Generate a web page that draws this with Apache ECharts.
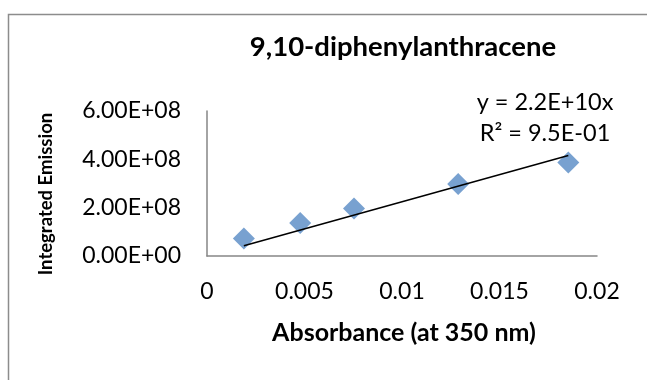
<!DOCTYPE html>
<html>
<head>
<meta charset="utf-8">
<script src="https://cdn.jsdelivr.net/npm/echarts@6/dist/echarts.min.js"></script>
<style>
  html, body { margin: 0; padding: 0; background: #ffffff; }
  #chart { width: 647px; height: 380px; }
</style>
</head>
<body>
<div id="chart"></div>
<script>
// ---- data ----
const chartTitle = '9,10-diphenylanthracene';
const xAxisTitle = 'Absorbance (at 350 nm)';
const yAxisTitle = 'Integrated Emission';
const absorbance = [0.00189, 0.00478, 0.00754, 0.01288, 0.01853];
const emission = [0.72e8, 1.37e8, 1.97e8, 2.98e8, 3.87e8];
const xTickLabels = ['0', '0.005', '0.01', '0.015', '0.02'];
const yTickLabels = ['0.00E+00', '2.00E+08', '4.00E+08', '6.00E+08'];
const equationLines = ['y = 2.2E+10x', 'R\u00B2 = 9.5E-01'];

// least-squares fit through origin (Excel trendline with intercept 0)
let sxy = 0, sxx = 0;
for (let i = 0; i < absorbance.length; i++) {
  sxy += absorbance[i] * emission[i];
  sxx += absorbance[i] * absorbance[i];
}
const slope = sxy / sxx;
const xMin = Math.min.apply(null, absorbance);
const xMax = Math.max.apply(null, absorbance);
const trendData = [[xMin, slope * xMin], [xMax, slope * xMax]];
const scatterData = absorbance.map((x, i) => [x, emission[i]]);

const FONT = 'Lato, "Open Sans", sans-serif';
const chart = echarts.init(document.getElementById('chart'), null, { renderer: 'canvas' });

chart.setOption({
  animation: false,
  backgroundColor: '#ffffff',
  grid: { left: 207, top: 111, right: 50, bottom: 124, containLabel: false },
  xAxis: {
    type: 'value', min: 0, max: 0.02, interval: 0.005,
    axisLine: { show: true, lineStyle: { color: '#868686', width: 1.5 } },
    axisTick: { show: false },
    splitLine: { show: false },
    axisLabel: {
      margin: 24, color: '#000', fontFamily: FONT, fontSize: 23,
      formatter: function (v) { return xTickLabels[Math.round(v / 0.005)]; }
    }
  },
  yAxis: {
    type: 'value', min: 0, max: 6e8, interval: 2e8,
    axisLine: { show: true, lineStyle: { color: '#868686', width: 1.5 } },
    axisTick: { show: false },
    splitLine: { show: false },
    axisLabel: {
      margin: 26, color: '#000', fontFamily: FONT, fontSize: 23,
      formatter: function (v) { return yTickLabels[Math.round(v / 2e8)]; }
    }
  },
  graphic: [
    { type: 'rect', shape: { x: 8.5, y: 14.5, width: 700, height: 420 },
      style: { fill: 'none', stroke: '#8c8c8c', lineWidth: 1.5 }, silent: true },
    { type: 'text', x: 403, y: 47,
      style: { text: chartTitle, fontFamily: FONT, fontWeight: 'bold', fontSize: 27.5,
               fill: '#000', textAlign: 'center', textVerticalAlign: 'middle' } },
    { type: 'text', x: 404, y: 333,
      style: { text: xAxisTitle, fontFamily: FONT, fontWeight: 'bold', fontSize: 25,
               fill: '#000', textAlign: 'center', textVerticalAlign: 'middle' } },
    { type: 'text', x: 46, y: 194, rotation: Math.PI / 2,
      style: { text: yAxisTitle, fontFamily: FONT, fontWeight: 'bold', fontSize: 18.5,
               fill: '#000', textAlign: 'center', textVerticalAlign: 'middle' } },
    { type: 'text', x: 545, y: 102,
      style: { text: equationLines[0], fontFamily: FONT, fontSize: 23.5,
               fill: '#000', textAlign: 'center', textVerticalAlign: 'middle' } },
    { type: 'text', x: 545, y: 133,
      style: { text: equationLines[1], fontFamily: FONT, fontSize: 23.5,
               fill: '#000', textAlign: 'center', textVerticalAlign: 'middle' } }
  ],
  series: [
    {
      type: 'scatter', data: scatterData, symbol: 'diamond', symbolSize: 22,
      itemStyle: { color: '#5689C4' }, z: 2
    },
    {
      type: 'line', data: trendData, showSymbol: false, symbol: 'none',
      lineStyle: { color: '#000', width: 1.5 }, z: 3
    }
  ]
});
</script>
</body>
</html>
